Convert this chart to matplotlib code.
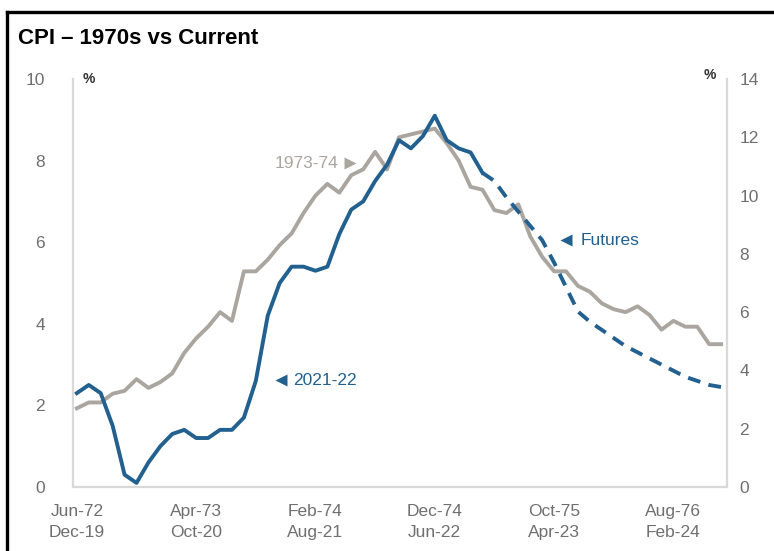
import numpy as np
import matplotlib.pyplot as plt
from matplotlib.lines import Line2D

plt.rcParams['font.family'] = ['Liberation Sans', 'DejaVu Sans']

# x tick labels (two rows: 1970s on top, current below)
top_labels = ['Jun-72', 'Apr-73', 'Feb-74', 'Dec-74', 'Oct-75', 'Aug-76']
bottom_labels = ['Dec-19', 'Oct-20', 'Aug-21', 'Jun-22', 'Apr-23', 'Feb-24']

# CPI y/y, Jun-72 .. Dec-76 (right axis)
cpi_1973_74 = [2.7, 2.9, 2.9, 3.2, 3.3, 3.7, 3.4, 3.6, 3.9, 4.6, 5.1, 5.5, 6.0, 5.7,
               7.4, 7.4, 7.8, 8.3, 8.7, 9.4, 10.0, 10.4, 10.1, 10.7, 10.9, 11.5, 10.9,
               12.0, 12.1, 12.2, 12.3, 11.8, 11.2, 10.3, 10.2, 9.5, 9.4, 9.7, 8.6, 7.9,
               7.4, 7.4, 6.9, 6.7, 6.3, 6.1, 6.0, 6.2, 5.9, 5.4, 5.7, 5.5, 5.5, 4.9, 4.9]

# CPI y/y, Dec-19 .. Oct-22 (left axis)
cpi_2021_22 = [2.3, 2.5, 2.3, 1.5, 0.3, 0.1, 0.6, 1.0, 1.3, 1.4, 1.2, 1.2, 1.4, 1.4,
               1.7, 2.6, 4.2, 5.0, 5.4, 5.4, 5.3, 5.4, 6.2, 6.8, 7.0, 7.5, 7.9, 8.5,
               8.3, 8.6, 9.1, 8.5, 8.3, 8.2, 7.7]

# futures implied path, Oct-22 .. Jun-24
futures = [7.7, 7.5, 7.1, 6.75, 6.4, 6.05, 5.5, 4.9, 4.3, 4.05, 3.85, 3.65, 3.45,
           3.3, 3.15, 3.0, 2.85, 2.7, 2.6, 2.5, 2.45]

blue = '#22608f'
grey = '#aba59f'
axis_grey = '#d9d9d9'
text_grey = '#6f6f6f'
narrow = ['Liberation Sans Narrow', 'Liberation Sans', 'DejaVu Sans']

fig = plt.figure(figsize=(7.74, 5.51), dpi=100)
ax = fig.add_axes([0.0939, 0.1162, 0.8455, 0.7404])
ax2 = ax.twinx()

m_old = np.arange(len(cpi_1973_74))
m_new = np.arange(len(cpi_2021_22))
m_fut = np.arange(len(cpi_2021_22) - 1, len(cpi_2021_22) - 1 + len(futures))

ax2.plot(m_old, cpi_1973_74, color=grey, lw=2.8, solid_joinstyle='round')
ax.plot(m_new, cpi_2021_22, color=blue, lw=2.8, solid_joinstyle='round', zorder=5)
ax.plot(m_fut, futures, color=blue, lw=2.8, ls=(0, (3.3, 2.2)), zorder=5)
ax.set_zorder(ax2.get_zorder() + 1)
ax.patch.set_visible(False)

ax.set_xlim(-0.35, 54.5)
ax.set_ylim(0, 10)
ax2.set_ylim(0, 14)
ax.set_yticks(np.arange(0, 11, 2))
ax2.set_yticks(np.arange(0, 15, 2))
ax.set_xticks(np.arange(0, 51, 10))
ax.set_xticklabels([t + '\n' + b for t, b in zip(top_labels, bottom_labels)],
                   linespacing=1.5, family=narrow, fontsize=12.5)

for a in (ax, ax2):
    for s in a.spines.values():
        s.set_visible(False)
    a.tick_params(length=0, labelsize=12.5, labelcolor=text_grey)
    for lab in a.get_yticklabels():
        lab.set_family(narrow)
ax.spines['left'].set_visible(True)
ax.spines['bottom'].set_visible(True)
ax2.spines['right'].set_visible(True)
for s in (ax.spines['left'], ax.spines['bottom'], ax2.spines['right']):
    s.set_color(axis_grey)
    s.set_linewidth(1.6)
ax.tick_params(axis='y', pad=20)
ax.tick_params(axis='x', pad=12)
ax2.tick_params(axis='y', pad=9)

# unit labels
ax.text(0.024, 1.0, '%', transform=ax.transAxes, fontsize=10, fontweight='bold',
        color='#333333', va='center', ha='center')
ax.text(0.974, 1.01, '%', transform=ax.transAxes, fontsize=10, fontweight='bold',
        color='#333333', va='center', ha='center')

# series annotations
ax.plot([22.9], [7.94], marker='>', color=grey, ms=9, mec='none')
ax.text(21.9, 7.94, '1973-74', color=grey, fontsize=12.5, ha='right', va='center',
        family=narrow)
ax.plot([17.1], [2.62], marker='<', color=blue, ms=9, mec='none')
ax.text(18.1, 2.62, '2021-22', color=blue, fontsize=12.5, ha='left', va='center',
        family=narrow)
ax.plot([41.0], [6.05], marker='<', color=blue, ms=9, mec='none')
ax.text(42.2, 6.05, 'Futures', color=blue, fontsize=12.5, ha='left', va='center',
        family=narrow)

fig.text(18 / 774, 1 - 38 / 551, 'CPI \u2013 1970s vs Current', fontsize=16,
         fontweight='bold', va='center', ha='left', family=narrow)

# black frame (left and top edges)
fig.add_artist(Line2D([6.5 / 774, 6.5 / 774], [-0.1, 1 - 12 / 551], color='black', lw=2.4))
fig.add_artist(Line2D([6.5 / 774, 1.1], [1 - 12 / 551, 1 - 12 / 551], color='black', lw=2.4))

fig.savefig('out.png', dpi=100)
